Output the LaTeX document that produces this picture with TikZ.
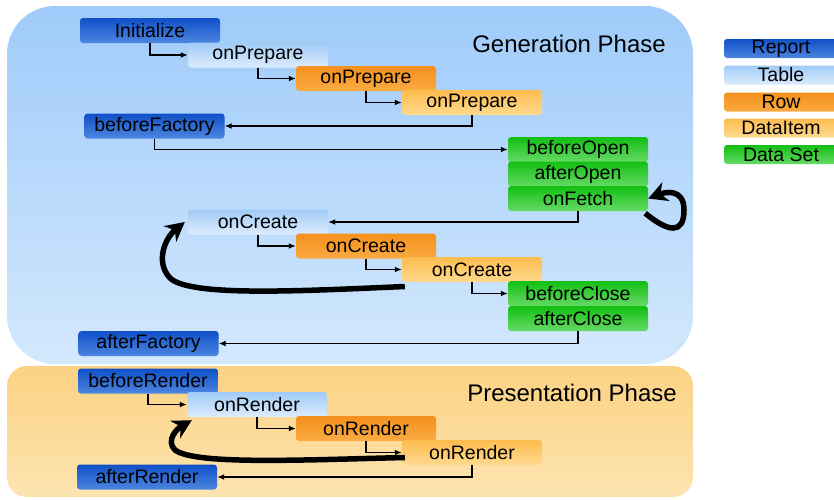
\documentclass[tikz,border=0pt]{standalone}
\usepackage{fontspec}
\setmainfont{Liberation Sans}
\usepackage{tikz}
\usetikzlibrary{arrows.meta}

\definecolor{reportTop}{HTML}{1050C8}
\definecolor{reportBot}{HTML}{4C86E0}
\definecolor{tableTop}{HTML}{A0CBF6}
\definecolor{tableBot}{HTML}{DCECFD}
\definecolor{rowTop}{HTML}{F5901C}
\definecolor{rowBot}{HTML}{FAAB42}
\definecolor{itemTop}{HTML}{FDBD4E}
\definecolor{itemBot}{HTML}{FFD98F}
\definecolor{setTop}{HTML}{12BF12}
\definecolor{setBot}{HTML}{66DA66}
\definecolor{genTop}{HTML}{9FCBFA}
\definecolor{genBot}{HTML}{D3E8FD}
\definecolor{preTop}{HTML}{FBD283}
\definecolor{preBot}{HTML}{FDE4B0}

\newcommand{\hookfont}{\fontsize{19.5}{20}\selectfont}
\newcommand{\phasefont}{\fontsize{24}{26}\selectfont}

\begin{document}
\begin{tikzpicture}[x=1pt, y=-1pt,
        hook/.style={rounded corners=3pt, minimum width=140pt, minimum height=25pt, inner sep=0pt, font=\hookfont},
        reportbox/.style={hook, top color=reportTop, bottom color=reportBot},
        tablebox/.style={hook, top color=tableTop, bottom color=tableBot},
        rowbox/.style={hook, top color=rowTop, bottom color=rowBot},
        itembox/.style={hook, top color=itemTop, bottom color=itemBot},
        setbox/.style={hook, top color=setTop, bottom color=setBot},
        legend/.style={minimum width=114pt, minimum height=19pt},
        link/.style={->, >={Latex[length=7pt,width=6pt]}, line width=1.5pt},
        again/.style={-{Stealth[length=19pt,width=20pt]}, line width=5.5pt}]
        \useasboundingbox (0,0) rectangle (834,499);

        % phases
        \path[rounded corners=48pt, top color=genTop, bottom color=genBot]
            (7,6) rectangle (693,364);
        \path[rounded corners=20pt, top color=preTop, bottom color=preBot]
            (7,366) rectangle (693,497);
        \node[font=\phasefont] (genLabel) at (569,44) {Generation Phase};
        \node[font=\phasefont] (preLabel) at (572,393) {Presentation Phase};

        % legend
        \node[reportbox, legend] (lgReport) at (781,48.5) {Report};
        \node[tablebox, legend] (lgTable) at (781,75) {Table};
        \node[rowbox, legend] (lgRow) at (781,102) {Row};
        \node[itembox, legend] (lgItem) at (781,128) {DataItem};
        \node[setbox, legend] (lgSet) at (781,154.5) {Data Set};

        % generation
        \node[reportbox] (init) at (150,30.5) {Initialize};
        \node[tablebox] (prepT) at (258,55) {onPrepare};
        \node[rowbox] (prepR) at (366,78.5) {onPrepare};
        \node[itembox] (prepD) at (472,102.5) {onPrepare};
        \node[reportbox] (befFac) at (154.5,126) {beforeFactory};
        \node[setbox] (befOpen) at (578,149.5) {beforeOpen};
        \node[setbox] (aftOpen) at (578,174) {afterOpen};
        \node[setbox] (fetch) at (578,198.5) {onFetch};
        \node[tablebox] (creT) at (258,222) {onCreate};
        \node[rowbox] (creR) at (366,246) {onCreate};
        \node[itembox] (creD) at (472,269.5) {onCreate};
        \node[setbox] (befClose) at (578,293.5) {beforeClose};
        \node[setbox] (aftClose) at (578,318.5) {afterClose};
        \node[reportbox] (aftFac) at (148.5,343.5) {afterFactory};

        % presentation
        \node[reportbox] (befRen) at (148,381) {beforeRender};
        \node[tablebox] (renT) at (257,404.5) {onRender};
        \node[rowbox] (renR) at (366,428.5) {onRender};
        \node[itembox] (renD) at (472,452.5) {onRender};
        \node[reportbox] (aftRen) at (147,477) {afterRender};

        \draw[link] (init.south) |- (prepT.west);
        \draw[link] (prepT.south) |- (prepR.west);
        \draw[link] (prepR.south) |- (prepD.west);
        \draw[link] (prepD.south) |- (befFac.east);
        \draw[link] (befFac.south) |- (befOpen.west);
        \draw[link] (fetch.south) |- (creT.east);
        \draw[link] (creT.south) |- (creR.west);
        \draw[link] (creR.south) |- (creD.west);
        \draw[link] (creD.south) |- (befClose.west);
        \draw[link] (aftClose.south) |- (aftFac.east);
        \draw[link] (befRen.south) |- (renT.west);
        \draw[link] (renT.south) |- (renR.west);
        \draw[link] (renR.south) |- (renD.west);
        \draw[link] (renD.south) |- (aftRen.east);

        % repeats
        \draw[again] ([xshift=-3pt,yshift=-2pt]fetch.south east)
            .. controls (668,232) and (684,235) .. (684,210)
            .. controls (684,188) and (665,192) .. (fetch.east);
        \draw[again] ([xshift=3pt,yshift=-17pt]creD.west)
            .. controls (300,291) and (190,297) .. (170,278)
            .. controls (155,262) and (165,238) .. ([xshift=-3pt]creT.west);
        \draw[again] ([xshift=3pt,yshift=-5pt]renD.west)
            .. controls (300,460) and (195,465) .. (175,450)
            .. controls (165,440) and (178,428) .. ([xshift=5pt,yshift=-3pt]renT.south west);
\end{tikzpicture}
\end{document}
